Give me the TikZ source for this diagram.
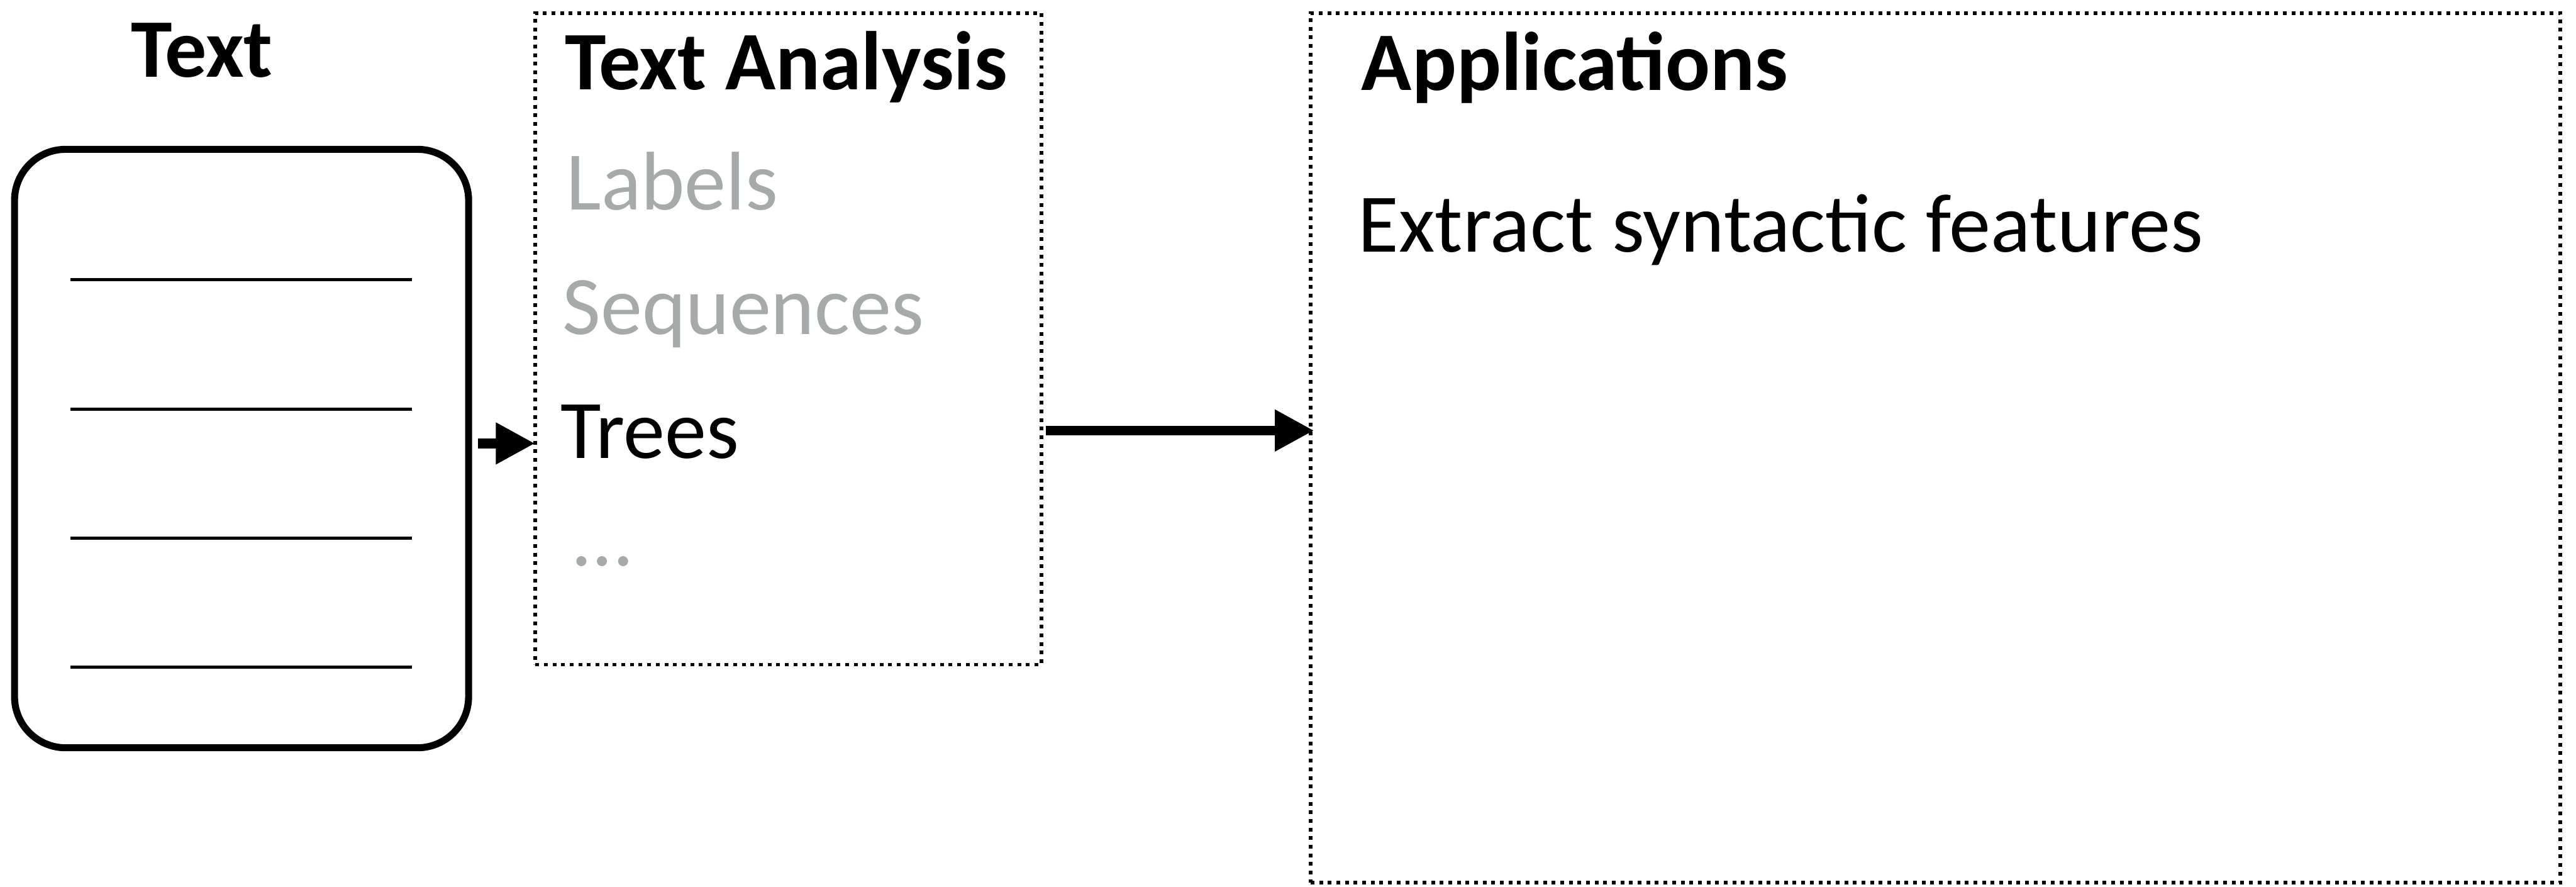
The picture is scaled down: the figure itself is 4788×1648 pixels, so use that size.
\documentclass[tikz,border=0pt]{standalone}
\usepackage{fontspec}
\setmainfont{Carlito}
\usepackage{tikz}
\usetikzlibrary{arrows.meta, positioning, calc}
\definecolor{softgray}{RGB}{166,170,169}

\begin{document}
\begin{tikzpicture}[
        x=0.1mm, y=-0.1mm,
        every node/.style={inner sep=0pt, font=\fontsize{44pt}{52pt}\selectfont},
        doc/.style={draw, line width=1.3mm, rounded corners=9.5mm},
        panel/.style={draw, line width=0.7mm, dash pattern=on 0.7mm off 0.9mm},
        flow/.style={line width=1.8mm, -{Triangle[length=7.3mm, width=7.3mm]}},
        heading/.style={anchor=base west, font=\fontsize{44pt}{52pt}\selectfont\bfseries},
        item/.style={anchor=base west},
        faded/.style={item, text=softgray}
    ]
        \useasboundingbox (0,0) rectangle (4788,1648);

        % boxes
        \node[doc, minimum width=84.4mm, minimum height=111.2mm] (textdoc) at (449,833.5) {};
        \node[panel, minimum width=94.1mm, minimum height=121.1mm] (analysis) at (1465.5,629.5) {};
        \node[panel, minimum width=232.3mm, minimum height=161.6mm] (apps) at (3597.5,832) {};

        % ruled lines of the document
        \foreach \y in {520,760,1000,1240}
            \draw[line width=0.6mm] (131,\y) -- (766,\y);

        % titles
        \node[heading] (doctitle) at (243,143) {Text};
        \node[heading] (anatitle) at (1049,167) {Text Analysis};
        \node[heading] (apptitle) at (2530,168) {Applications};

        % analysis items
        \node[faded] (labels) at (1052,390) {Labels};
        \node[faded] (sequences) at (1045,621) {Sequences};
        \node[item] (trees) at (1041,852) {Trees};
        \node[faded] (more) at (1066,1052) {…};

        % application items
        \node[item] (syntax) at (2524,468) {Extract syntactic features};

        % arrows
        \draw[flow, shorten <=1.1mm, shorten >=-0.3mm]
            ([yshift=0.95mm]textdoc.east) -- ([yshift=0.95mm]textdoc.east -| analysis.west);
        \draw[flow, shorten <=0.5mm, shorten >=-1mm]
            ([yshift=-17.05mm]analysis.east) -- ([yshift=-17.05mm]analysis.east -| apps.west);
    \end{tikzpicture}
\end{document}
